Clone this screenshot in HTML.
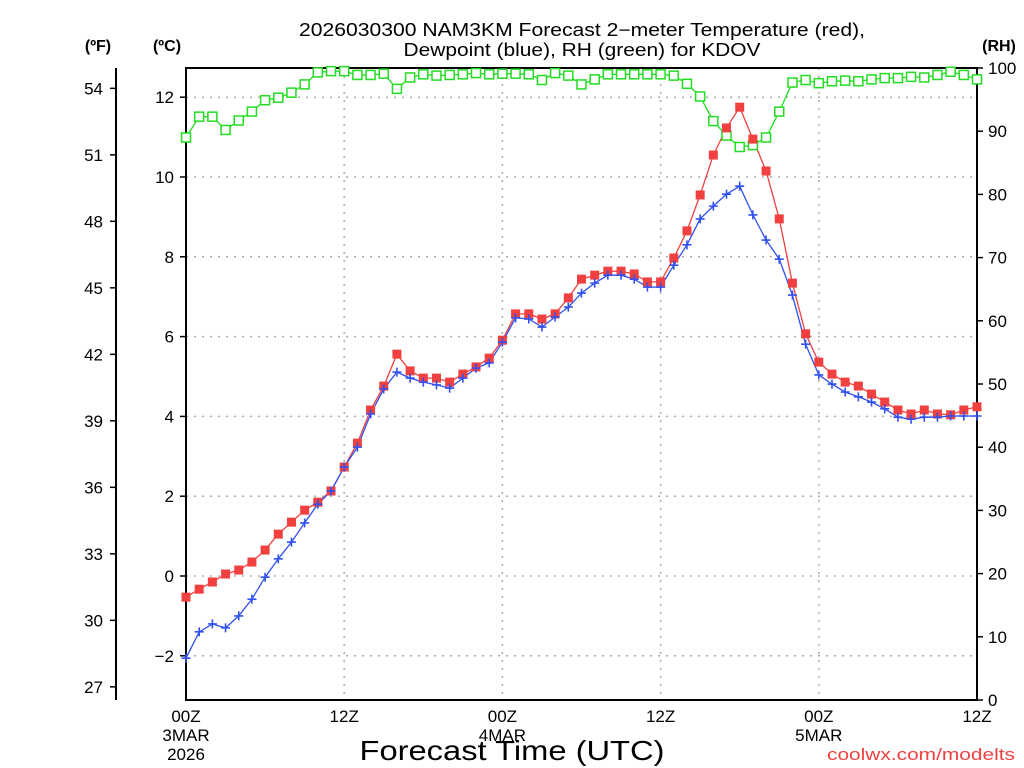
<!DOCTYPE html>
<html><head><meta charset="utf-8"><style>
html,body{margin:0;padding:0;background:#fff;}
svg{display:block;font-family:"Liberation Sans",sans-serif;}
</style></head><body>
<svg id="chart" width="1024" height="768" viewBox="0 0 1024 768" xmlns="http://www.w3.org/2000/svg">
<rect width="1024" height="768" fill="#fff"/>
<g font-size="18" text-anchor="middle" fill="#000">
<text x="582" y="36" textLength="566" lengthAdjust="spacingAndGlyphs">2026030300 NAM3KM Forecast 2−meter Temperature (red),</text>
<text x="582" y="56" textLength="357" lengthAdjust="spacingAndGlyphs">Dewpoint (blue), RH (green) for KDOV</text>
</g>
<text x="98" y="51" font-size="16" font-weight="bold" text-anchor="middle">(ºF)</text>
<text x="167" y="51" font-size="16" font-weight="bold" text-anchor="middle">(ºC)</text>
<text x="999" y="51" font-size="16" font-weight="bold" text-anchor="middle">(RH)</text>
<g id="grid"></g>
<g id="axes"></g>
<g id="series"></g>
<text x="512" y="760" font-size="28" text-anchor="middle" textLength="305" lengthAdjust="spacingAndGlyphs">Forecast Time (UTC)</text>
<text x="1015" y="760" font-size="17" fill="#f04040" text-anchor="end" textLength="188" lengthAdjust="spacingAndGlyphs">coolwx.com/modelts</text>
</svg>
<script>
const tempC = [-0.53,-0.33,-0.15,0.05,0.15,0.35,0.65,1.05,1.35,1.65,1.85,2.13,2.73,3.33,4.16,4.76,5.56,5.14,4.96,4.96,4.86,5.06,5.24,5.46,5.91,6.57,6.57,6.44,6.57,6.97,7.44,7.54,7.64,7.64,7.57,7.37,7.37,7.97,8.65,9.55,10.55,11.23,11.75,10.95,10.15,8.95,7.34,6.07,5.36,5.06,4.86,4.76,4.56,4.36,4.16,4.06,4.16,4.06,4.04,4.16,4.24];
const dewC = [-2.06,-1.40,-1.20,-1.30,-1.00,-0.58,-0.03,0.43,0.85,1.33,1.80,2.13,2.73,3.23,4.06,4.69,5.11,4.96,4.86,4.79,4.71,4.96,5.21,5.34,5.86,6.47,6.44,6.24,6.49,6.74,7.09,7.34,7.54,7.54,7.44,7.24,7.24,7.79,8.30,8.95,9.27,9.57,9.77,9.05,8.42,7.94,7.04,5.81,5.04,4.81,4.61,4.49,4.36,4.19,3.98,3.93,3.98,3.98,4.01,4.01,4.01];
const rh = [89.0,92.3,92.3,90.2,91.7,93.1,94.9,95.3,96.1,97.4,99.3,99.5,99.5,98.9,98.9,99.1,96.7,98.5,99.0,98.8,98.9,99.0,99.2,99.0,99.1,99.1,99.0,98.1,99.2,98.8,97.4,98.2,99.0,99.0,99.0,99.0,99.0,98.8,97.5,95.5,91.6,89.3,87.5,87.8,89.0,93.1,97.7,98.1,97.6,97.9,98.0,97.9,98.2,98.4,98.4,98.6,98.5,98.9,99.4,98.9,98.2];
const fTicks = [27,30,33,36,39,42,45,48,51,54];
const cTicks = [-2,0,2,4,6,8,10,12];
const rhTicks = [0,10,20,30,40,50,60,70,80,90,100];
const xTickHours = [0,12,24,36,48,60];
const xTickLabels = ["00Z","12Z","00Z","12Z","00Z","12Z"];
const xDateLabels = ["3MAR","","4MAR","","5MAR",""];

const NS="http://www.w3.org/2000/svg";
const L=186,R=977,T=68,B=700;
const xs=h=>L+(R-L)*h/60;
const yC=c=>576-39.9*c;
const yRH=v=>B-(B-T)*v/100;
function mk(tag,attrs,parent){const e=document.createElementNS(NS,tag);for(const k in attrs)e.setAttribute(k,attrs[k]);parent.appendChild(e);return e;}
const grid=document.getElementById('grid'),axes=document.getElementById('axes'),ser=document.getElementById('series');

// grid
cTicks.forEach(c=>{const l=mk('line',{x1:L,x2:R,y1:yC(c),y2:yC(c),stroke:'#aaa','stroke-width':1.5,'stroke-dasharray':'2,6'},grid);

});
xTickHours.slice(1,5).forEach(h=>{const l=mk('line',{x1:xs(h),x2:xs(h),y1:T,y2:B,stroke:'#aaa','stroke-width':1.5,'stroke-dasharray':'2,6'},grid);

});

// frame
const fr=mk('rect',{x:L,y:T,width:R-L,height:B-T,fill:'none',stroke:'#000','stroke-width':2},axes);


// F axis
const fl=mk('line',{x1:116,x2:116,y1:T,y2:B,stroke:'#000','stroke-width':2},axes);


fTicks.forEach(f=>{const y=yC((f-32)*5/9);
mk('line',{x1:110,x2:116,y1:y,y2:y,stroke:'#000','stroke-width':1.5},axes);
const t=mk('text',{x:103,y:y+6,'font-size':17,'text-anchor':'end'},axes);t.textContent=f;

});
cTicks.forEach(c=>{const y=yC(c);
mk('line',{x1:180,x2:186,y1:y,y2:y,stroke:'#000','stroke-width':1.5},axes);
const t=mk('text',{x:174,y:y+6,'font-size':17,'text-anchor':'end'},axes);t.textContent=c<0?'−'+(-c):c;

});
rhTicks.forEach(v=>{const y=yRH(v);
mk('line',{x1:977,x2:983,y1:y,y2:y,stroke:'#000','stroke-width':1.5},axes);
const t=mk('text',{x:988,y:y+6,'font-size':17,'text-anchor':'start'},axes);t.textContent=v;

});
xTickHours.forEach((h,i)=>{const x=xs(h);
const t=mk('text',{x:x,y:722,'font-size':17,'text-anchor':'middle'},axes);t.textContent=xTickLabels[i];


if(xDateLabels[i]){const d=mk('text',{x:x,y:741,'font-size':17,'text-anchor':'middle'},axes);d.textContent=xDateLabels[i];

}});
const yr=mk('text',{x:186,y:760,'font-size':17,'text-anchor':'middle'},axes);yr.textContent='2026';



function line(vals,yf,color,name){const p=vals.map((v,i)=>xs(i).toFixed(1)+','+yf(v).toFixed(1)).join(' ');
const l=mk('polyline',{points:p,fill:'none',stroke:color,'stroke-width':1.3},ser);

}
line(rh,yRH,'#22dd22','rh-line');
line(tempC,yC,'#f04040','temperature-line');
line(dewC,yC,'#3050f0','dewpoint-line');
rh.forEach((v,i)=>{const r=mk('rect',{x:xs(i)-4.5,y:yRH(v)-4.5,width:9,height:9,fill:'#fff',stroke:'#22dd22','stroke-width':1.5},ser);

});
tempC.forEach((v,i)=>{const r=mk('rect',{x:xs(i)-4.5,y:yC(v)-4.5,width:9,height:9,fill:'#f04040'},ser);

});
dewC.forEach((v,i)=>{const x=xs(i),y=yC(v);
const p=mk('path',{d:`M${x-4.5},${y}H${x+4.5}M${x},${y-4.5}V${y+4.5}`,stroke:'#3050f0','stroke-width':1.6},ser);

});
</script>
</body></html>
